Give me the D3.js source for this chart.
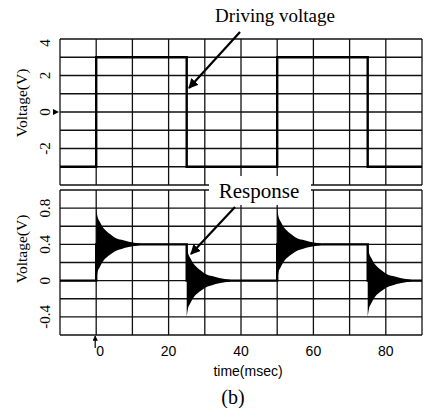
<!DOCTYPE html>
<html>
<head>
<meta charset="utf-8">
<script src="https://cdn.jsdelivr.net/npm/d3@7"></script>
<style>
  body { margin: 0; background: #fff; }
  svg { display: block; }
</style>
</head>
<body>
<svg id="chart" width="426" height="408"></svg>
<script>
// time grid / ticks (msec)
var timeTicks = [0, 20, 40, 60, 80];
var timeGrid = [-10, 0, 10, 20, 30, 40, 50, 60, 70, 80, 90];

// top panel: driving voltage (square wave), step points
var driveT = [-10, 0, 25, 50, 75, 90];
var driveV = [-3, 3, -3, 3, -3, -3];
var topTicks = [4, 2, 0, -2];
var topGrid = [-4, -3, -2, -1, 0, 1, 2, 3, 4];

// bottom panel: response level (step points) + ringing bursts
var respT = [-10, 0, 25, 50, 75, 90];
var respV = [0, 0.4, 0, 0.4, 0, 0];
var burstT = [0, 25, 50, 75];
var burstLevel = [0.4, 0, 0.4, 0];
// ringing envelope (time after step, half amplitude in V)
var envDt = [0, 0.3, 1, 2, 3, 4, 5, 7, 9, 12];
var envAmp = [0.40, 0.32, 0.25, 0.18, 0.14, 0.11, 0.08, 0.05, 0.03, 0.01];
var botTicks = [0.8, 0.4, 0, -0.4];
var botGrid = [-0.6, -0.4, -0.2, 0, 0.2, 0.4, 0.6, 0.8, 1.0];

var svg = d3.select("#chart");
var serif = "'Liberation Serif', 'Times New Roman', serif";
var sans = "'Liberation Sans', Arial, sans-serif";

var x = d3.scaleLinear().domain([-10, 90]).range([60, 422]);
var yTop = d3.scaleLinear().domain([-4, 4]).range([185, 39]);
var yBot = d3.scaleLinear().domain([-0.6, 1.0]).range([335, 190]);

svg.append("defs").append("marker")
    .attr("id", "ah")
    .attr("viewBox", "0 0 10 10")
    .attr("refX", 9).attr("refY", 5)
    .attr("markerWidth", 4.5).attr("markerHeight", 4.5)
    .attr("orient", "auto")
    .append("path")
    .attr("d", "M0,0 L10,5 L0,10 z")
    .attr("fill", "#000");

function panel(y, hGrid, ticks, fmt) {
    var g = svg.append("g");
    // vertical grid
    g.selectAll("line.v").data(timeGrid).enter().append("line")
        .attr("x1", function(d) { return x(d); })
        .attr("x2", function(d) { return x(d); })
        .attr("y1", y.range()[1])
        .attr("y2", y.range()[0])
        .attr("stroke", "#111").attr("stroke-width", 1.3);
    // horizontal grid
    g.selectAll("line.h").data(hGrid).enter().append("line")
        .attr("x1", x(-10)).attr("x2", x(90))
        .attr("y1", function(d) { return y(d); })
        .attr("y2", function(d) { return y(d); })
        .attr("stroke", "#111").attr("stroke-width", 1.3);
    // y tick labels, rotated
    g.selectAll("text.t").data(ticks).enter().append("text")
        .attr("transform", function(d) {
            var yy = y(d);
            if (d === y.domain()[1]) yy += 4;
            return "translate(50," + yy + ") rotate(-90)";
        })
        .attr("text-anchor", "middle")
        .attr("font-family", serif)
        .attr("font-size", 15)
        .text(fmt);
    return g;
}

panel(yTop, topGrid, topTicks, function(d) { return d; });
panel(yBot, botGrid, botTicks, function(d) { return d === 0 ? "0" : d.toFixed(1); });

// y axis titles
[[103], [249]].forEach(function(p) {
    svg.append("text")
        .attr("transform", "translate(27," + p[0] + ") rotate(-90)")
        .attr("text-anchor", "middle")
        .attr("font-family", serif)
        .attr("font-size", 15.5)
        .text("Voltage(V)");
});

// driving voltage
var drivePts = driveT.map(function(t, i) { return [t, driveV[i]]; });
svg.append("path")
    .datum(drivePts)
    .attr("d", d3.line().x(function(d) { return x(d[0]); })
        .y(function(d) { return yTop(d[1]); }).curve(d3.curveStepAfter))
    .attr("fill", "none").attr("stroke", "#000").attr("stroke-width", 2.4);

// response: level line
var respPts = respT.map(function(t, i) { return [t, respV[i]]; });
svg.append("path")
    .datum(respPts)
    .attr("d", d3.line().x(function(d) { return x(d[0]); })
        .y(function(d) { return yBot(d[1]); }).curve(d3.curveStepAfter))
    .attr("fill", "none").attr("stroke", "#000").attr("stroke-width", 2.4);

// response: ringing bursts drawn as filled envelopes
var env = d3.area()
    .x(function(d) { return x(d.t); })
    .y0(function(d) { return yBot(d.lv - d.a); })
    .y1(function(d) { return yBot(d.lv + d.a); })
    .curve(d3.curveMonotoneX);
burstT.forEach(function(t0, k) {
    var pts = envDt.map(function(dt, i) {
        return { t: t0 + dt, lv: burstLevel[k], a: envAmp[i] };
    });
    svg.append("path").datum(pts).attr("d", env).attr("fill", "#000");
});

// x axis labels
svg.selectAll("text.xt").data(timeTicks).enter().append("text")
    .attr("x", function(d) { return x(d) + (d === 0 ? 4 : 0); })
    .attr("y", 356)
    .attr("text-anchor", "middle")
    .attr("font-family", sans)
    .attr("font-size", 14)
    .text(function(d) { return d; });

// small up arrow at t=0
svg.append("line")
    .attr("x1", x(0) - 1).attr("x2", x(0) - 1)
    .attr("y1", 348).attr("y2", 336)
    .attr("stroke", "#000").attr("stroke-width", 1.2)
    .attr("marker-end", "url(#ah)");

// little marker at 0 V on the top panel
svg.append("path")
    .attr("d", "M" + (x(-10) - 7) + "," + (yTop(0) - 3) + " L" + (x(-10) - 1) + "," + yTop(0) +
        " L" + (x(-10) - 7) + "," + (yTop(0) + 3) + " z")
    .attr("fill", "#000");

svg.append("text")
    .attr("x", 248).attr("y", 376)
    .attr("text-anchor", "middle")
    .attr("font-family", sans)
    .attr("font-size", 14)
    .text("time(msec)");

svg.append("text")
    .attr("x", 233).attr("y", 404)
    .attr("text-anchor", "middle")
    .attr("font-family", serif)
    .attr("font-size", 20)
    .text("(b)");

// annotations
svg.append("text")
    .attr("x", 275).attr("y", 22)
    .attr("text-anchor", "middle")
    .attr("font-family", serif)
    .attr("font-size", 19)
    .text("Driving voltage");
svg.append("line")
    .attr("x1", 240).attr("y1", 32).attr("x2", 189).attr("y2", 88)
    .attr("stroke", "#000").attr("stroke-width", 2.2)
    .attr("marker-end", "url(#ah)");

svg.append("rect")
    .attr("x", 209).attr("y", 176).attr("width", 102).attr("height", 29)
    .attr("fill", "#fff");
svg.append("text")
    .attr("x", 259).attr("y", 198)
    .attr("text-anchor", "middle")
    .attr("font-family", serif)
    .attr("font-size", 21)
    .text("Response");
svg.append("line")
    .attr("x1", 235).attr("y1", 207).attr("x2", 191).attr("y2", 254)
    .attr("stroke", "#000").attr("stroke-width", 2.2)
    .attr("marker-end", "url(#ah)");
</script>
</body>
</html>
